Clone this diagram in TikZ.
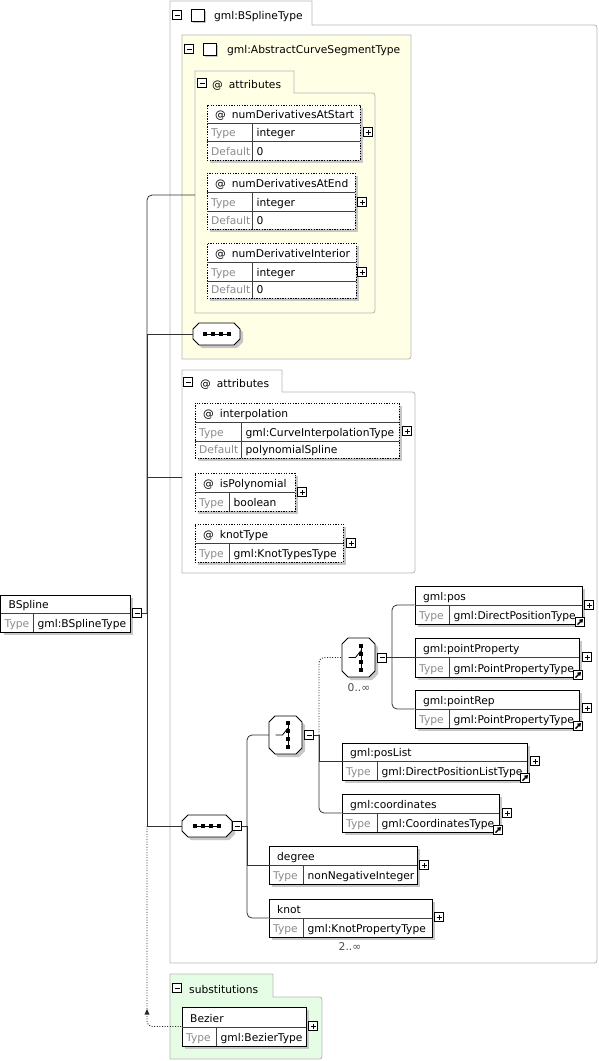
\documentclass[tikz,border=0pt]{standalone}
\usepackage{fontspec}
\setmainfont{DejaVu Sans}
\usetikzlibrary{fit,calc,arrows.meta}

\definecolor{cyel}{RGB}{255,255,229}
\definecolor{cgrn}{RGB}{229,252,229}

\tikzset{
  conn/.style={draw=black!80, line width=0.8pt},
  dots/.style={draw=black!85, line width=0.9pt, dash pattern=on 1pt off 1.6pt},
  grp/.style={draw=black!28, line width=0.8pt},
  shade/.style={fill=black!22},
  elbox/.style={draw=black, line width=0.9pt, fill=white, inner sep=0pt},
  atbox/.style={elbox, dash pattern=on 1.3pt off 1.3pt},
  rowl/.style={draw=black!75, line width=0.6pt},
  icon/.style={draw=black, line width=0.9pt, fill=white},
  lbl/.style={anchor=base west, inner sep=0pt},
  dim/.style={lbl, text=black!45},
  btnm/.style={draw=black, line width=0.7pt, fill=white, minimum size=9pt, inner sep=0pt,
    path picture={\draw[line width=0.7pt] ([xshift=2pt]path picture bounding box.west) -- ([xshift=-2pt]path picture bounding box.east);}},
  btnp/.style={btnm,
    path picture={\draw[line width=0.7pt] ([xshift=2pt]path picture bounding box.west) -- ([xshift=-2pt]path picture bounding box.east)
      ([yshift=-2pt]path picture bounding box.north) -- ([yshift=2pt]path picture bounding box.south);}},
  lnk/.style={draw=black, line width=0.8pt, fill=white, minimum size=9pt, inner sep=0pt,
    path picture={\draw[line width=1.4pt, -{Triangle[length=3.5pt,width=4.5pt]}] ([xshift=2pt,yshift=2pt]path picture bounding box.south west) -- ([xshift=-1.5pt,yshift=-1.5pt]path picture bounding box.north east);}},
  every node/.style={font=\fontsize{10.7}{12}\selectfont},
}

% group box with a tab: left, tab top, tab right, top, right, bottom, fill
\newcommand{\grp}[7]{\draw[grp, fill=#7] (#1,#6) -- (#1,#2) -- (#3,#2) -- (#3,#4) -- (#5-6,#4) .. controls (#5,#4) .. (#5,#4+6) -- (#5,#6-6) .. controls (#5,#6) .. (#5-6,#6) -- cycle;}
% box: style, name, left, top, right, bottom, header line, title
\newcommand{\ebox}[8]{%
  \fill[shade] (#3+3,#4+3) rectangle (#5+3,#6+3);
  \node[#1, fit={(#3,#4) (#5,#6)}] (#2) {};
  \node[lbl] (#2-t) at (#3+8,#7-5) {#8};
}
% row: name, left, right, top, bottom, divider, label, value
\newcommand{\erow}[8]{%
  \draw[rowl] (#2,#4) -- (#3,#4) (#6,#4) -- (#6,#5);
  \node[dim] (#1-l) at (#2+4,#5-5) {#7};
  \node[lbl] (#1-v) at (#6+4.5,#5-5) {#8};
}
% compositor icon: name, left, top, right, bottom
\newcommand{\octo}[5]{%
  \fill[shade] (#2+9,#3+3) -- (#4-3,#3+3) -- (#4+3,#3+9) -- (#4+3,#5-3) -- (#4-3,#5+3) -- (#2+9,#5+3) -- (#2+3,#5-3) -- (#2+3,#3+9) -- cycle;
  \draw[icon] (#2+6,#3) -- (#4-6,#3) -- (#4,#3+6) -- (#4,#5-6) -- (#4-6,#5) -- (#2+6,#5) -- (#2,#5-6) -- (#2,#3+6) -- cycle;
  \node[fit={(#2,#3) (#4,#5)}, inner sep=0pt] (#1) {};
}

\begin{document}
\begin{tikzpicture}[x=1pt, y=-1pt]
\useasboundingbox (0,0) rectangle (599,1061);

% groups
\grp{170}{1}{312}{25}{597}{963}{white}
\node[btnm] (mT) at (177,15) {};
\fill[shade] (193,11) rectangle (206,23);
\draw[line width=0.8pt, fill=white] (191,9) rectangle (204,21);
\node[lbl] (tT) at (214,19) {gml:BSplineType};

\draw[grp, fill=cyel] (182,35) -- (411,35) -- (411,353) .. controls (411,359) .. (405,359) -- (182,359) -- cycle;
\node[btnm] (mY) at (189,49) {};
\fill[shade] (205,45) rectangle (218,57);
\draw[line width=0.8pt, fill=white] (203,43) rectangle (216,55);
\node[lbl] (tY) at (227,53) {gml:AbstractCurveSegmentType};

\grp{195}{71}{294}{93}{375}{313}{none}
\node[btnm] (mA1) at (202,83) {};
\node[lbl] (tA1) at (212,88) {@\hspace{6pt}attributes};

\grp{182}{370}{282}{392}{415}{573}{none}
\node[btnm] (mA2) at (188,382) {};
\node[lbl] (tA2) at (200,387) {@\hspace{6pt}attributes};

\grp{170}{974}{273}{997}{322}{1059}{cgrn}
\node[btnm] (mS) at (177,988) {};
\node[lbl] (tS) at (189,993) {substitutions};

% attributes
\ebox{atbox}{a1}{207}{105}{360}{160}{123}{@\hspace{6pt}numDerivativesAtStart}
\erow{a1a}{207}{360}{123}{141}{252}{Type}{integer}
\erow{a1b}{207}{360}{141}{160}{252}{Default}{0}
\node[btnp] (pa1) at (368,132) {};
\ebox{atbox}{a2}{207}{173}{355}{229}{192}{@\hspace{6pt}numDerivativesAtEnd}
\erow{a2a}{207}{355}{192}{211}{252}{Type}{integer}
\erow{a2b}{207}{355}{211}{229}{252}{Default}{0}
\node[btnp] (pa2) at (362,202) {};
\ebox{atbox}{a3}{207}{243}{356}{298}{262}{@\hspace{6pt}numDerivativeInterior}
\erow{a3a}{207}{356}{262}{281}{252}{Type}{integer}
\erow{a3b}{207}{356}{281}{298}{252}{Default}{0}
\node[btnp] (pa3) at (362,272) {};

\ebox{atbox}{a4}{195}{403}{399}{458}{422}{@\hspace{6pt}interpolation}
\erow{a4a}{195}{399}{422}{441}{241}{Type}{gml:CurveInterpolationType}
\erow{a4b}{195}{399}{441}{458}{241}{Default}{polynomialSpline}
\node[btnp] (pa4) at (407,431) {};
\ebox{atbox}{a5}{195}{473}{295}{511}{492}{@\hspace{6pt}isPolynomial}
\erow{a5a}{195}{295}{492}{511}{229}{Type}{boolean}
\node[btnp] (pa5) at (302,492) {};
\ebox{atbox}{a6}{195}{524}{343}{562}{543}{@\hspace{6pt}knotType}
\erow{a6a}{195}{343}{543}{562}{229}{Type}{gml:KnotTypesType}
\node[btnp] (pa6) at (351,543) {};

% elements
\ebox{elbox}{bspl}{0.5}{595}{130}{632}{613}{BSpline}
\erow{bsplr}{0.5}{130}{613}{632}{33}{Type}{gml:BSplineType}
\node[btnm] (mB) at (137,613) {};

\ebox{elbox}{pos}{415}{586}{582}{624}{605}{gml:pos}
\erow{posr}{415}{582}{605}{624}{449}{Type}{gml:DirectPositionType}
\node[btnp] (ppos) at (589,605) {};
\node[lnk] (lpos) at (580,622) {};
\ebox{elbox}{pptp}{415}{638}{579}{677}{657}{gml:pointProperty}
\erow{pptpr}{415}{579}{657}{677}{449}{Type}{gml:PointPropertyType}
\node[btnp] (ppptp) at (587,657) {};
\node[lnk] (lpptp) at (578,675) {};
\ebox{elbox}{prep}{415}{690}{579}{728}{709}{gml:pointRep}
\erow{prepr}{415}{579}{709}{728}{449}{Type}{gml:PointPropertyType}
\node[btnp] (pprep) at (587,708) {};
\node[lnk] (lprep) at (578,726) {};
\ebox{elbox}{plist}{342}{743}{527}{780}{761}{gml:posList}
\erow{plistr}{342}{527}{761}{780}{377}{Type}{gml:DirectPositionListType}
\node[btnp] (pplist) at (535,761) {};
\node[lnk] (lplist) at (525,778) {};
\ebox{elbox}{coord}{342}{794}{499}{832}{813}{gml:coordinates}
\erow{coordr}{342}{499}{813}{832}{377}{Type}{gml:CoordinatesType}
\node[btnp] (pcoord) at (507,813) {};
\node[lnk] (lcoord) at (498,830) {};
\ebox{elbox}{deg}{269}{846}{417}{884}{865}{degree}
\erow{degr}{269}{417}{865}{884}{303}{Type}{nonNegativeInteger}
\node[btnp] (pdeg) at (424,865) {};
\ebox{elbox}{knot}{269}{899}{432}{937}{918}{knot}
\erow{knotr}{269}{432}{918}{937}{303}{Type}{gml:KnotPropertyType}
\node[btnp] (pknot) at (439,917) {};
\node[text=black!70] (oknot) at (350,947) {2..∞};
\ebox{elbox}{bez}{182}{1007}{306}{1046}{1027}{Bezier}
\erow{bezr}{182}{306}{1027}{1046}{216}{Type}{gml:BezierType}
\node[btnp] (pbez) at (313,1026) {};

% compositors
\octo{sq1}{193}{323}{240}{345}
\octo{sq2}{182}{815}{232}{837}
\node[btnm] (msq2) at (237,826) {};
\octo{ch1}{269}{716}{302}{754}
\node[btnm] (mch1) at (309,735) {};
\octo{ch2}{342}{638}{375}{677}
\node[btnm] (mch2) at (382,657.5) {};
\node[text=black!70] (och2) at (359,688) {0..∞};
\foreach \n in {sq1,sq2} {
  \draw[line width=0.8pt] ($(\n)+(-13,0)$) -- ($(\n)+(13,0)$);
  \foreach \d in {-12,-4,4,12} \fill ($(\n)+(\d,0)$) +(-2,-2) rectangle +(2,2);
}
\foreach \n in {ch1,ch2} {
  \draw[line width=0.8pt] ($(\n)+(2.5,-14)$) -- ($(\n)+(2.5,13)$);
  \foreach \d in {-12,-4,4,12} \fill ($(\n)+(2.5,\d)$) +(-2,-2) rectangle +(2,2);
  \draw[line width=0.8pt] ($(\n)+(-10,0)$) -- ($(\n)+(-3,0)$) -- ($(\n)+(2.5,-7)$);
}

% connectors
\coordinate (spA) at (147,613);
\coordinate (ag1) at (195,195);
\coordinate (ag2) at (182,477);
\draw[conn] (mB) -- (spA);
\draw[conn, rounded corners=5pt] (spA) |- (ag1);
\draw[conn] (spA) |- (sq1.west);
\draw[conn] (spA) |- (ag2);
\draw[conn] (spA) |- (sq2.west);
\draw[dots, rounded corners=5pt] (sq2.west -| spA) |- (bez.west);
\fill[black!85] (147,1009) -- (144.5,1014.5) -- (149.5,1014.5) -- cycle;

\coordinate (spB) at (247,826);
\draw[conn] (msq2) -- (spB);
\draw[conn, rounded corners=5pt] (spB) |- (ch1.west);
\draw[conn] (spB) |- (deg.west);
\draw[conn, rounded corners=5pt] (spB) |- (knot.west);

\coordinate (spC) at (319,735);
\draw[conn] (mch1) -- (spC);
\draw[dots, rounded corners=5pt] (spC) |- (ch2.west);
\draw[conn] (spC) |- (plist.west);
\draw[conn, rounded corners=5pt] (spC) |- (coord.west);

\coordinate (spD) at (392,657.5);
\draw[conn] (mch2) -- (pptp.west);
\draw[conn, rounded corners=5pt] (spD) |- (pos.west);
\draw[conn, rounded corners=5pt] (spD) |- (prep.west);
\end{tikzpicture}
\end{document}
